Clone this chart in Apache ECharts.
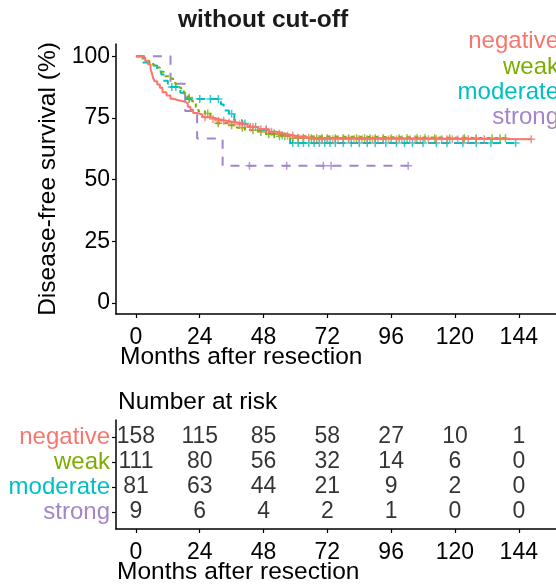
<!DOCTYPE html>
<html>
<head>
<meta charset="utf-8">
<script src="https://cdn.jsdelivr.net/npm/echarts@6/dist/echarts.min.js"></script>
<style>html,body{margin:0;padding:0;background:#fff}#c{width:556px;height:585px}</style>
</head>
<body>
<div id="c"></div>
<script>
// ---- data ----
const groups = ['negative', 'weak', 'moderate', 'strong'];
const xTicks = [0, 24, 48, 72, 96, 120, 144];
const yTicks = [0, 25, 50, 75, 100];

const negTime = [0, 2, 3.5, 4.5, 5.5, 6, 6.5, 7, 8, 9, 10, 11.5, 13, 14, 16, 18.5, 19.5, 20.5, 21.5, 23, 25, 28, 31, 34, 38, 42, 46, 50, 53, 56, 60, 66, 148.7];
const negSurv = [100, 99.4, 98.1, 96.8, 94.9, 93.0, 91.1, 89.9, 88.6, 87.3, 85.4, 84.1, 82.8, 82.2, 81.6, 80.9, 79.6, 78.3, 77.0, 76.4, 75.3, 74.6, 73.9, 73.2, 72.4, 71.3, 70.4, 69.4, 68.6, 67.8, 67.0, 66.4, 66.4];
const negCensor = [26, 29, 31, 33, 35, 37, 39, 40, 43, 44, 47, 49, 51, 54, 57, 59, 61, 63, 65, 67, 69, 70, 72, 74, 76, 78, 80, 82, 84, 85, 87, 89, 91, 93, 95, 98, 100, 103, 105, 107, 110, 113, 115, 117, 119, 121, 123, 125, 128, 131, 148.7];

const weakTime = [0, 2, 3.5, 5, 6.5, 7.5, 9, 10.5, 11, 12.5, 14, 15, 15.6, 17, 18, 18.5, 19.5, 20.5, 21.5, 22.5, 23.5, 26, 28, 30, 34.5, 38, 41, 45, 49, 53, 58, 139];
const weakSurv = [100, 99.1, 98.2, 97.3, 96.4, 95.5, 93.7, 92.8, 91.9, 91.0, 89.2, 88.3, 87.4, 86.4, 85.5, 84.2, 83.3, 82.0, 80.8, 79.0, 77.7, 76.8, 74.9, 72.9, 72.0, 71.0, 70.0, 69.3, 68.4, 67.6, 66.8, 66.8];
const weakCensor = [20, 27, 31, 36, 40, 44, 47, 50, 52, 54, 56, 59, 61, 63, 66, 68, 70, 72, 75, 78, 80, 83, 86, 88, 90, 93, 96, 99, 102, 105.7, 108.7, 112.4, 118, 123.5, 128, 134, 137, 139];

const modTime = [0, 2.6, 5, 8, 9.5, 10.4, 12, 13, 16.7, 19, 32, 33, 35, 37, 40, 42.7, 46, 50, 53, 57, 58, 142.8];
const modSurv = [100, 97.5, 96.3, 93.8, 92.6, 90.1, 88.9, 87.6, 85.2, 82.7, 80.5, 78.0, 76.7, 74.1, 72.8, 71.4, 70.0, 68.7, 68.0, 66.9, 64.9, 64.9];
const modCensor = [13.5, 15, 20, 24, 28, 31, 36, 41, 45, 49, 52, 55, 59, 61, 63, 65, 67, 69, 71, 73, 75, 78, 81, 84, 87, 90, 94, 98, 101, 104, 108, 113, 117, 123, 128, 133.5, 142.8];

const strongTime = [0, 13, 18.5, 23, 32.6, 102.4];
const strongSurv = [100, 88.9, 77.8, 66.7, 55.6, 55.6];
const strongCensor = [42.7, 56.7, 70.5, 73.4, 102.4];

const riskTimes = [0, 24, 48, 72, 96, 120, 144];
const riskNeg = [158, 115, 85, 58, 27, 10, 1];
const riskWeak = [111, 80, 56, 32, 14, 6, 0];
const riskMod = [81, 63, 44, 21, 9, 2, 0];
const riskStrong = [9, 6, 4, 2, 1, 0, 0];

// ---- styles ----
const colors = ['#F8766D', '#7CAE00', '#00BFC4', '#A385C8'];
const dashes = ['solid', [4, 4], [8, 5], [9, 8]];
const FONT = 'Liberation Sans, Arial, Helvetica, sans-serif';
const FS = 23;    // tick labels / numbers
const FL = 24;    // legend / row labels
const FN = 24.5;  // axis names

const curves = [
  [negTime, negSurv, negCensor],
  [weakTime, weakSurv, weakCensor],
  [modTime, modSurv, modCensor],
  [strongTime, strongSurv, strongCensor]
];
const risks = [riskNeg, riskWeak, riskMod, riskStrong];

function survAt(times, surv, t) {
  let s = surv[0];
  for (let i = 0; i < times.length; i++) { if (times[i] <= t) s = surv[i]; }
  return s;
}

const series = [];
curves.forEach((c, gi) => {
  const [t, s, cens] = c;
  series.push({
    type: 'line', name: groups[gi], step: 'end', symbol: 'none',
    xAxisIndex: 0, yAxisIndex: 0, z: 4 - gi,
    data: t.map((v, i) => [v, s[i]]),
    lineStyle: { color: colors[gi], width: 2, type: dashes[gi] },
    silent: true, animation: false
  });
  series.push({
    type: 'scatter', name: groups[gi] + ' censor',
    xAxisIndex: 0, yAxisIndex: 0, z: 4 - gi,
    symbol: 'path://M5,0L5,10M0,5L10,5', symbolSize: 8,
    data: cens.map(v => [v, survAt(t, s, v)]),
    itemStyle: { color: 'rgba(0,0,0,0)', borderColor: colors[gi], borderWidth: 1.5 },
    silent: true, animation: false
  });
});

const rowVal = [4, 3, 2, 1];
risks.forEach((r, gi) => {
  series.push({
    type: 'scatter', xAxisIndex: 1, yAxisIndex: 1, symbolSize: 0,
    data: riskTimes.map((t, i) => [t, rowVal[gi], r[i]]),
    label: { show: true, position: 'inside', formatter: p => String(p.value[2]), color: '#000', fontSize: FS, fontFamily: FONT },
    silent: true, animation: false
  });
});

const rich = {};
groups.forEach((g, gi) => { rich['g' + rowVal[gi]] = { color: colors[gi], fontSize: FL, fontFamily: FONT }; });

const axisLine = { show: true, onZero: false, lineStyle: { color: '#000', width: 1.5 } };
const axisTick = { show: true, length: 4, lineStyle: { color: '#000', width: 1.2 } };

const option = {
  animation: false,
  title: { text: 'without cut-off', left: 173, top: 3, textStyle: { fontSize: 24.5, fontWeight: 'bold', color: '#1a1a1a', fontFamily: FONT } },
  grid: [
    { left: 116, top: 44, width: 446, height: 270, containLabel: false },
    { left: 116, top: 420, width: 446, height: 109, containLabel: false }
  ],
  xAxis: [
    { type: 'value', gridIndex: 0, min: -7.5, max: 158, axisLine, axisTick: Object.assign({ customValues: xTicks }, axisTick),
      splitLine: { show: false },
      axisLabel: { customValues: xTicks, color: '#000', fontSize: FS, fontFamily: FONT, margin: 12 } },
    { type: 'value', gridIndex: 1, min: -7.5, max: 158, axisLine, axisTick: Object.assign({ customValues: xTicks }, axisTick),
      splitLine: { show: false },
      axisLabel: { customValues: xTicks, color: '#000', fontSize: FS, fontFamily: FONT, margin: 12 } }
  ],
  yAxis: [
    { type: 'value', gridIndex: 0, min: -4.5, max: 105, axisLine, axisTick: Object.assign({ customValues: yTicks }, axisTick),
      splitLine: { show: false },
      axisLabel: { customValues: yTicks, color: '#000', fontSize: FS, fontFamily: FONT, margin: 6 },
      name: 'Disease-free survival (%)', nameLocation: 'middle', nameGap: 43,
      nameTextStyle: { fontSize: FN, color: '#000', fontFamily: FONT } },
    { type: 'value', gridIndex: 1, min: 0.32, max: 4.68, axisLine, axisTick: Object.assign({ customValues: rowVal }, axisTick),
      splitLine: { show: false },
      axisLabel: { customValues: rowVal, margin: 6, formatter: v => '{g' + v + '|' + groups[rowVal.indexOf(v)] + '}', rich } }
  ],
  graphic: [
    { type: 'text', left: 120, top: 345, style: { text: 'Months after resection', fontSize: FN, fill: '#000', fontFamily: FONT } },
    { type: 'text', left: 117, top: 560, style: { text: 'Months after resection', fontSize: FN, fill: '#000', fontFamily: FONT } },
    { type: 'text', left: 118, top: 390, style: { text: 'Number at risk', fontSize: FN, fill: '#000', fontFamily: FONT } }
  ].concat(groups.map((g, gi) => ({
    type: 'text', x: 559, y: [41, 67, 92, 117][gi],
    style: { text: g, fontSize: FL, fill: colors[gi], fontFamily: FONT, align: 'right', verticalAlign: 'middle' }
  }))),
  series
};

const chart = echarts.init(document.getElementById('c'), null, { renderer: 'canvas' });
chart.setOption(option);
</script>
</body>
</html>
